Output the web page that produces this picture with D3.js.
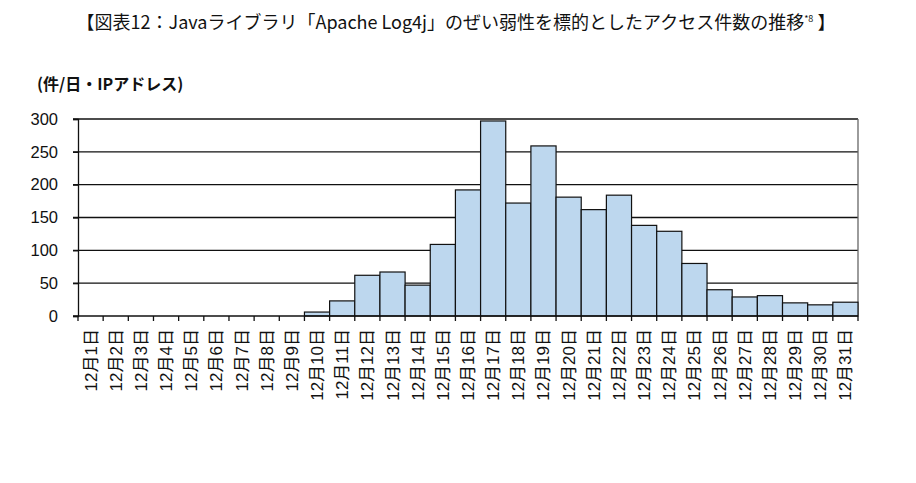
<!DOCTYPE html>
<html>
<head>
<meta charset="utf-8">
<script src="https://cdn.jsdelivr.net/npm/d3@7"></script>
<style>
  body { margin: 0; background: #fff; }
  svg { display: block; }
</style>
</head>
<body>
<div id="chart"></div>
<script>
// Data.
const days = d3.range(1, 32).map(d => `12月${d}日`);
const counts = [0, 0, 0, 0, 0, 0, 0, 0, 0, 6, 23, 62, 67, 47, 109, 192, 297, 172, 259, 181,
  162, 184, 138, 129, 80, 40, 29, 31, 20, 17, 21];
const yTicks = [0, 50, 100, 150, 200, 250, 300];

const W = 916, H = 483;
const margin = { top: 119, right: 58, bottom: 167, left: 78 },
  width = W - margin.left - margin.right,
  height = H - margin.top - margin.bottom;

const root = d3.select("#chart").append("svg")
  .attr("width", W)
  .attr("height", H);

// Title.
const title = root.append("text")
  .attr("x", 456)
  .attr("y", 29)
  .attr("text-anchor", "middle")
  .style("font-family", "'Noto Sans CJK JP', sans-serif")
  .style("font-size", "18px")
  .style("fill", "#111");
title.append("tspan").text("【図表12：Javaライブラリ「Apache Log4j」のぜい弱性を標的としたアクセス件数の推移");
title.append("tspan").attr("dy", -7).style("font-size", "9px").text("*8");
title.append("tspan").attr("dy", 7).text(" 】");

// Unit label.
root.append("text")
  .attr("x", 37)
  .attr("y", 90)
  .style("font-family", "'Noto Sans CJK JP', sans-serif")
  .style("font-size", "16px")
  .style("font-weight", "bold")
  .style("fill", "#111")
  .text("(件/日・IPアドレス)");

const svg = root.append("g")
  .attr("transform", `translate(${margin.left}, ${margin.top})`);

const x = d3.scaleBand()
  .domain(days)
  .range([0, width])
  .padding(0);
const y = d3.scaleLinear()
  .domain([0, 300])
  .range([height, 0]);

// Gridlines.
svg.selectAll("line.grid")
  .data(yTicks.filter(d => d > 0))
  .join("line")
  .attr("class", "grid")
  .attr("x1", -5)
  .attr("x2", width)
  .attr("y1", d => y(d))
  .attr("y2", d => y(d))
  .attr("stroke", "#111")
  .attr("stroke-width", 1.3);

// Right border.
svg.append("line")
  .attr("x1", width).attr("x2", width)
  .attr("y1", 0).attr("y2", height)
  .attr("stroke", "#666")
  .attr("stroke-width", 1.3);

// Bars.
svg.selectAll("rect.bar")
  .data(counts)
  .join("rect")
  .attr("class", "bar")
  .attr("x", (d, i) => x(days[i]))
  .attr("y", d => y(d))
  .attr("width", x.bandwidth())
  .attr("height", d => height - y(d))
  .attr("fill", "#bdd7ee")
  .attr("stroke", "#111")
  .attr("stroke-width", 1.2);

// Y axis.
const yAxis = svg.append("g")
  .call(d3.axisLeft(y).tickValues(yTicks).tickSize(5).tickPadding(15));
yAxis.select(".domain").attr("stroke", "#111").attr("stroke-width", 1.3);
yAxis.selectAll(".tick line").attr("stroke", "#111").attr("stroke-width", 1.3);
yAxis.selectAll("text")
  .style("font-family", "Arial, 'Liberation Sans', sans-serif")
  .style("font-size", "16.5px")
  .style("fill", "#111");

// X axis with ticks between categories.
svg.append("line")
  .attr("x1", -5).attr("x2", width)
  .attr("y1", height).attr("y2", height)
  .attr("stroke", "#111")
  .attr("stroke-width", 1.3);
svg.selectAll("line.xtick")
  .data(d3.range(0, days.length + 1))
  .join("line")
  .attr("class", "xtick")
  .attr("x1", i => i * x.step())
  .attr("x2", i => i * x.step())
  .attr("y1", height)
  .attr("y2", height + 5)
  .attr("stroke", "#111")
  .attr("stroke-width", 1.3);

svg.selectAll("text.xlab")
  .data(days)
  .join("text")
  .attr("class", "xlab")
  .attr("transform", d => `translate(${x(d) + x.bandwidth() / 2 + 6}, ${height + 13}) rotate(-90)`)
  .attr("text-anchor", "end")
  .style("font-family", "'Liberation Sans', Arial, 'Noto Sans CJK JP', sans-serif")
  .style("font-size", "17px")
  .style("fill", "#111")
  .text(d => d);
</script>
</body>
</html>
